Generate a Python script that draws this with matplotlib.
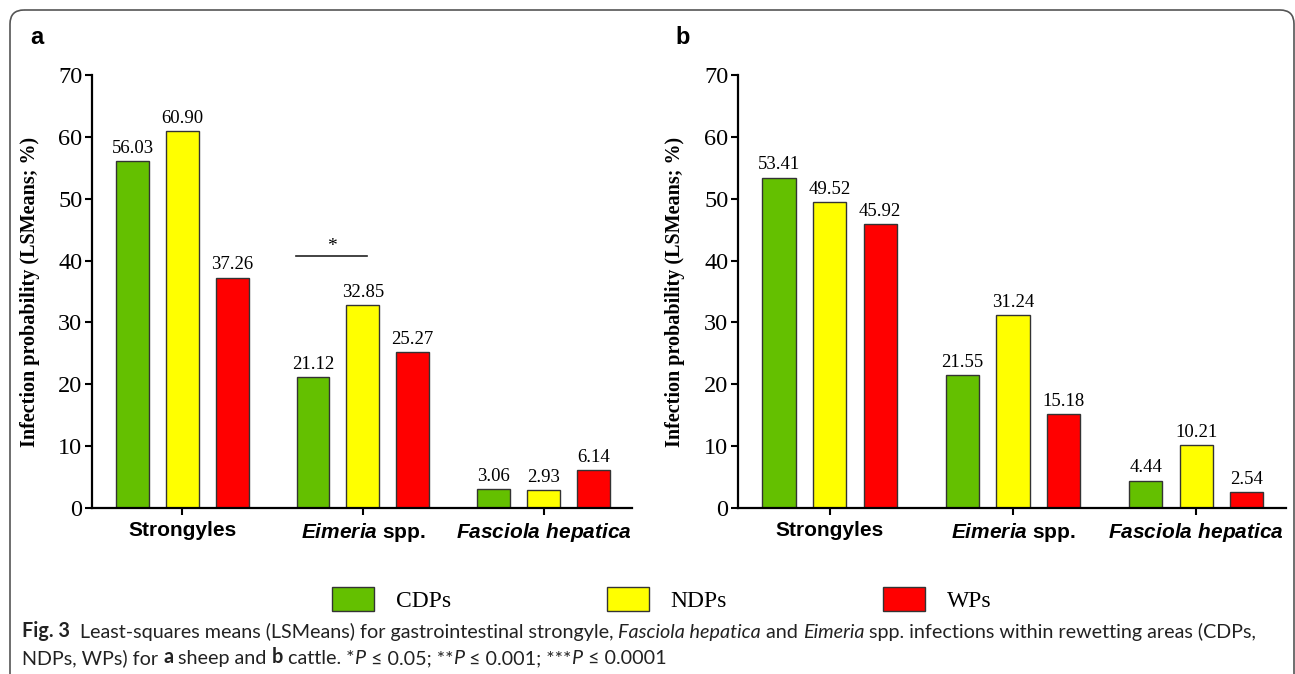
"""Infection probability LSMeans by rewetting area, sheep (a) and cattle (b)."""

import matplotlib

matplotlib.use("Agg")
import matplotlib.pyplot as plt
import numpy as np
from matplotlib.patches import FancyBboxPatch

plt.rcParams["mathtext.fontset"] = "custom"
plt.rcParams["mathtext.it"] = "Liberation Sans:italic:bold"
plt.rcParams["mathtext.rm"] = "Liberation Sans:bold"

categories = ["Strongyles", r"$Eimeria$ spp.", r"$Fasciola\ hepatica$"]
areas = ["CDPs", "NDPs", "WPs"]
colors = ["#64c000", "#ffff00", "#ff0000"]

sheep_cdp = [56.03, 21.12, 3.06]
sheep_ndp = [60.90, 32.85, 2.93]
sheep_wp = [37.26, 25.27, 6.14]

cattle_cdp = [53.41, 21.55, 4.44]
cattle_ndp = [49.52, 31.24, 10.21]
cattle_wp = [45.92, 15.18, 2.54]

y_ticks = [0, 10, 20, 30, 40, 50, 60, 70]

SERIF = "Liberation Serif"
SANS = "Liberation Sans"


def draw_panel(ax, series, letter):
    x = np.arange(len(categories))
    step, width = 0.276, 0.182
    bars = []
    for i, (vals, col) in enumerate(zip(series, colors)):
        b = ax.bar(x + (i - 1) * step, vals, width, color=col,
                   edgecolor="#333333", linewidth=1.0, label=areas[i])
        for rect, v in zip(b, vals):
            ax.annotate(f"{v:.2f}", xy=(rect.get_x() + rect.get_width() / 2, v),
                        xytext=(0, 3), textcoords="offset points",
                        ha="center", va="bottom", fontsize=13.5, family=SERIF)
        bars.append(b)

    ax.set_ylim(0, 70)
    ax.set_xlim(-0.5, 2.49)
    ax.set_yticks(y_ticks)
    ax.set_yticklabels([str(t) for t in y_ticks], family=SERIF, fontsize=17.5)
    ax.set_xticks(x)
    ax.set_xticklabels(categories, fontsize=15, fontweight="bold", family=SANS)
    ax.tick_params(axis="both", direction="out", length=5, width=1.5, pad=2)
    ax.tick_params(axis="x", pad=4)
    for side in ("top", "right"):
        ax.spines[side].set_visible(False)
    for side in ("left", "bottom"):
        ax.spines[side].set_linewidth(1.6)
    ax.set_ylabel("Infection probability (LSMeans; %)", family=SERIF,
                  fontweight="bold", fontsize=14.5)
    ax.yaxis.set_label_coords(-0.097, 0.5)
    ax.text(-0.115, 1.06, letter, transform=ax.transAxes, fontsize=17,
            fontweight="bold", family=SANS, va="bottom", ha="left")
    return bars


fig = plt.figure(figsize=(12.95, 6.74), dpi=100)

# frame and caption layer
bg = fig.add_axes([0, 0, 1, 1])
bg.set_xlim(0, 1295)
bg.set_ylim(674, 0)
bg.axis("off")
bg.add_patch(FancyBboxPatch((10, 10), 1284, 700, boxstyle="round,pad=0,rounding_size=14",
                            facecolor="none", edgecolor="#555555", linewidth=1.2))

ax_a = fig.add_axes([92 / 1295, 166 / 674, 540 / 1295, 433 / 674])
ax_b = fig.add_axes([738 / 1295, 166 / 674, 548 / 1295, 433 / 674])
bars = draw_panel(ax_a, [sheep_cdp, sheep_ndp, sheep_wp], "a")
draw_panel(ax_b, [cattle_cdp, cattle_ndp, cattle_wp], "b")

# significance bracket, sheep Eimeria CDPs vs NDPs
ax_a.plot([0.63, 1.02], [40.7, 40.7], color="#222222", linewidth=1.2)
ax_a.text(0.83, 40.9, "*", ha="center", va="bottom", fontsize=14, family=SERIF)

fig.legend(handles=bars, labels=areas, loc="center", bbox_to_anchor=(0.511, 0.111),
           ncol=3, frameon=False, prop={"family": SERIF, "size": 17},
           handlelength=1.78, handleheight=1.2, handletextpad=0.93, columnspacing=6.6)


def rich_line(x, y, pieces, size=14.2):
    prev = None
    for text, style in pieces:
        kw = dict(fontsize=size, family="Lato", va="baseline", ha="left",
                  color="#222222")
        if "b" in style:
            kw["fontweight"] = "bold"
        if "i" in style:
            kw["fontstyle"] = "italic"
        if prev is None:
            prev = bg.text(x, y, text, **kw)
        else:
            prev = bg.annotate(text, xy=(1, 0), xycoords=prev, **{**kw, "va": "bottom"})


rich_line(22, 637, [
    ("Fig. 3", "b"),
    ("  Least-squares means (LSMeans) for gastrointestinal strongyle, ", ""),
    ("Fasciola hepatica", "i"),
    (" and ", ""),
    ("Eimeria", "i"),
    (" spp. infections within rewetting areas (CDPs,", ""),
])
rich_line(22, 664, [
    ("NDPs, WPs) for ", ""),
    ("a", "b"),
    (" sheep and ", ""),
    ("b", "b"),
    (" cattle. *", ""),
    ("P", "i"),
    (" \u2264 0.05; **", ""),
    ("P", "i"),
    (" \u2264 0.001; ***", ""),
    ("P", "i"),
    (" \u2264 0.0001", ""),
])

fig.savefig("out.png", dpi=100)
